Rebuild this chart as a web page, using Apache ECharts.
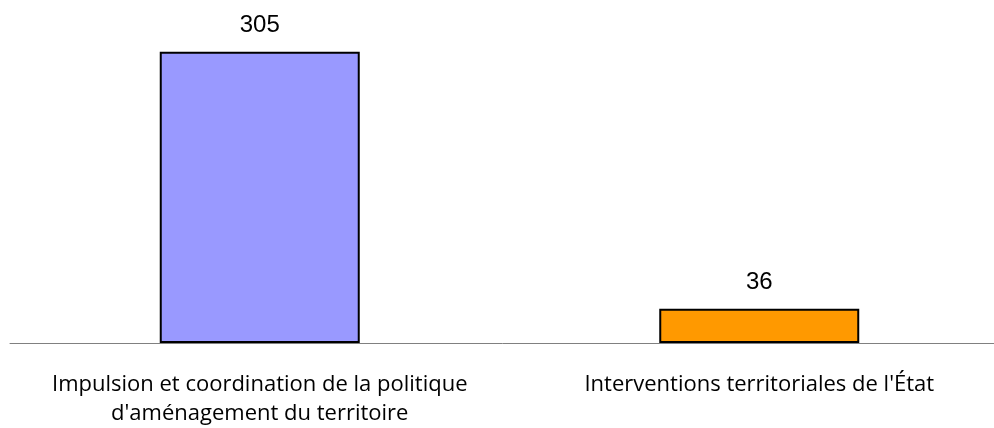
<!DOCTYPE html>
<html>
<head>
<meta charset="utf-8">
<script src="https://cdn.jsdelivr.net/npm/echarts@6/dist/echarts.min.js"></script>
<style>
  html, body { margin: 0; padding: 0; background: #fff; }
  #chart { width: 994px; height: 428px; }
</style>
</head>
<body>
<div id="chart"></div>
<script>
// données
const categories = ["Impulsion et coordination de la politique\nd'aménagement du territoire", "Interventions territoriales de l'État"]
const values = [305, 36]
const barColors = ["#9999FF", "#FF9900"]

const chart = echarts.init(document.getElementById('chart'), null, { renderer: 'canvas' })

const option = {
    animation: false,
    grid: { left: 10, right: -15, top: 28, bottom: 85, containLabel: false, outerBoundsMode: 'none' },
    xAxis: {
        type: 'category',
        data: categories,
        axisLine: { show: true, lineStyle: { color: '#808080', width: 1 } },
        axisTick: { show: false },
        axisLabel: {
            interval: 0,
            margin: 27,
            color: '#000',
            fontFamily: 'Open Sans',
            fontSize: 22,
            lineHeight: 29
        }
    },
    yAxis: {
        type: 'value',
        min: 0,
        max: 330,
        show: false,
        splitLine: { show: false }
    },
    series: [{
        type: 'bar',
        barWidth: 200,
        data: values.map((v, i) => ({
            value: v,
            itemStyle: { color: barColors[i] }
        })),
        itemStyle: { borderColor: '#000', borderWidth: 2 },
        label: {
            show: true,
            position: 'top',
            distance: 14,
            color: '#000',
            fontFamily: 'Liberation Sans',
            fontSize: 24
        }
    }]
}

chart.setOption(option)
</script>
</body>
</html>
